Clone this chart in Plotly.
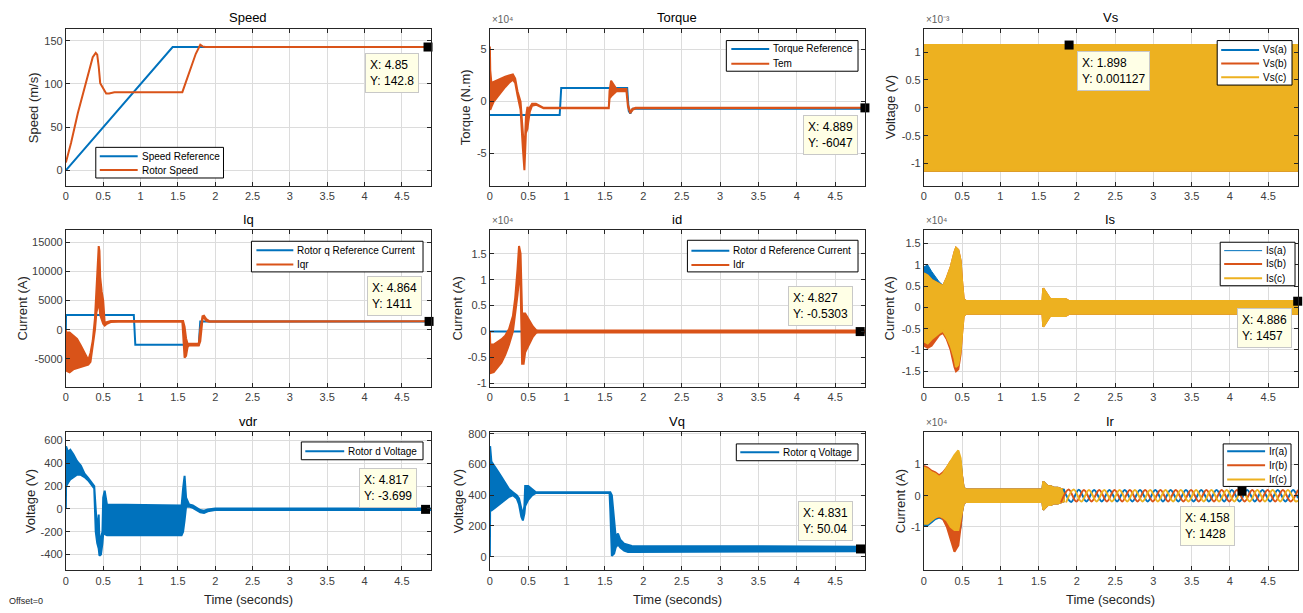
import plotly.graph_objects as go

# ---------------- data ----------------
BLUE = '#0072BD'
ORANGE = '#D95319'
YELLOW = '#EDB120'

x_ticks = [0, 0.5, 1, 1.5, 2, 2.5, 3, 3.5, 4, 4.5]
x_tick_labels = ['0', '0.5', '1', '1.5', '2', '2.5', '3', '3.5', '4', '4.5']
x_max = 4.89

# Speed
speed_ref_t = [0, 1.43, 4.89]
speed_ref_v = [0, 142.8, 142.8]
rotor_speed_t = [0, 0.07, 0.16, 0.27, 0.33, 0.36, 0.4, 0.42, 0.44, 0.46, 0.48, 0.51, 0.54, 0.58, 0.65,
                 1.56, 1.62, 1.68, 1.74, 1.8, 1.83, 1.87, 4.89]
rotor_speed_v = [9, 32, 66, 101, 122, 131, 136, 134, 120, 101, 98, 93, 89, 89, 90.5,
                 90.5, 105, 120, 135, 145.5, 143.5, 142.8, 142.8]

# Torque
torque_ref_t = [0, 0.91, 0.93, 1.79, 1.81, 1.83, 1.86, 4.89]
torque_ref_v = [-13000, -13000, 13000, 13000, -9000, -11500, -7000, -7000]
tem_t = [0, 0.005, 0.02, 0.05, 0.1, 0.15, 0.2, 0.25, 0.3, 0.33, 0.36, 0.4, 0.43, 0.45, 0.47, 0.49, 0.5,
         0.52, 0.55, 0.6, 0.65, 0.7, 1.55, 1.56, 1.58, 1.62, 1.65, 1.78, 1.8, 1.83, 1.86, 1.9, 4.89]
tem_hi = [53000, 30000, 18000, 19000, 21000, 22000, 24000, 25000, 26000, 22000, 10000, 0, -35000, -50000,
          -15000, -5000, -8000, -5000, -2000, -2000, -4000, -6000, -6000, 10000, 20000, 16000, 12000, 12000,
          -3000, -10000, -7000, -6000, -6000]
tem_lo = [0, -8000, -5000, 0, 5000, 9500, 14000, 18000, 21000, 18000, 6000, -8000, -45000, -66000, -30000,
          -26000, -20000, -10000, -4000, -3000, -5000, -6500, -6500, 3000, 5000, 8000, 10000, 10000, -5000,
          -11000, -8000, -6500, -6500]

# Vs (three phases, each a dense sine band)
vs_t = [0, 4.89]
vs_a_hi = [0.001127, 0.001127]
vs_a_lo = [-0.001127, -0.001127]
vs_b_hi = [0.001127, 0.001127]
vs_b_lo = [-0.001127, -0.001127]
vs_c_hi = [0.001127, 0.001127]
vs_c_lo = [-0.001127, -0.001127]

# Iq
iq_ref_t = [0, 0.002, 0.91, 0.93, 1.78, 1.8, 4.89]
iq_ref_v = [0, 2500, 2500, -2600, -2600, 1400, 1400]
iqr_t = [0, 0.003, 0.05, 0.1, 0.15, 0.2, 0.25, 0.3, 0.33, 0.36, 0.39, 0.41, 0.43, 0.44, 0.45, 0.46, 0.48,
         0.5, 0.52, 0.55, 0.6, 0.7, 1.56, 1.57, 1.59, 1.61, 1.63, 1.65, 1.78, 1.8, 1.83, 1.85, 1.88, 1.92, 4.89]
iqr_hi = [0, -500, -500, -1000, -1600, -2700, -3900, -5200, -4000, -1900, 2000, 8000, 12000, 14300, 13500,
          9000, 6500, 5000, 1200, 1300, 1500, 1500, 1500, 1500, 500, -1500, -2400, -2400, -2400, 0, 2300,
          2400, 1800, 1450, 1450]
iqr_lo = [-1500, -7000, -7300, -6800, -6600, -6300, -6200, -6000, -5500, -3000, 0, 3000, 4000, 5000, 4000,
          2500, 2000, 1000, 700, 1000, 1300, 1350, 1350, 1200, -4800, -4500, -3000, -2700, -2700, -2000,
          1800, 2100, 1500, 1350, 1350]

# id
id_ref_t = [0, 4.89]
id_ref_v = [0, 0]
idr_t = [0, 0.005, 0.05, 0.1, 0.15, 0.2, 0.25, 0.3, 0.33, 0.36, 0.38, 0.4, 0.42, 0.44, 0.46, 0.48, 0.5,
         0.53, 0.56, 0.6, 0.62, 4.89]
idr_hi = [0, -2500, -2500, -2000, -1500, -800, 500, 3000, 6500, 12000, 16500, 15000, 3500, 3500, 3500,
          3000, 2500, 2000, 1000, 300, 200, 200]
idr_lo = [-2000, -8000, -7800, -7000, -6000, -4500, -2500, 0, 3000, 7000, 10000, 9000, -6200, -6200,
          -4000, -3500, -3000, -2000, -1000, -300, -200, -200]

# Is (three phases)
is_t = [0, 0.05, 0.1, 0.2, 0.25, 0.3, 0.35, 0.4, 0.42, 0.45, 0.48, 0.5, 0.52, 0.55, 1.55, 1.56, 1.58,
        1.62, 1.65, 1.85, 1.9, 4.89]
is_a_hi = [9500, 10000, 8500, 6000, 5200, 7000, 9500, 13000, 14000, 13500, 11000, 6000, 2000, 1500, 1500,
           4500, 4000, 3000, 2000, 2000, 1500, 1500]
is_a_lo = [-8000, -8500, -7500, -6000, -5500, -7000, -9000, -12000, -14000, -13500, -10000, -6000, -2000,
           -1500, -1500, -4500, -4000, -3000, -2000, -2000, -1500, -1500]
is_b_hi = [8000, 7500, 6500, 5500, 5000, 7000, 9500, 13000, 14000, 13500, 11000, 6000, 2000, 1500, 1500,
           4500, 4000, 3000, 2000, 2000, 1500, 1500]
is_b_lo = [-9000, -9500, -9000, -6500, -6000, -7500, -10000, -14000, -15000, -14500, -11000, -6000, -2000,
           -1500, -1500, -4500, -4000, -3000, -2000, -2000, -1500, -1500]
is_c_hi = [8000, 7500, 6500, 5500, 5000, 7000, 9500, 13000, 14000, 13500, 11000, 6000, 2000, 1500, 1500,
           4500, 4000, 3000, 2000, 2000, 1500, 1500]
is_c_lo = [-8000, -8500, -7500, -6000, -5500, -7000, -9000, -12000, -14000, -13500, -10000, -6000, -2000,
           -1500, -1500, -4500, -4000, -3000, -2000, -2000, -1500, -1500]

# vdr
vdr_t = [0, 0.003, 0.03, 0.06, 0.1, 0.15, 0.2, 0.25, 0.3, 0.38, 0.4, 0.42, 0.44, 0.45, 0.47, 0.49, 0.5,
         0.52, 0.55, 1.55, 1.57, 1.59, 1.61, 1.65, 1.7, 1.75, 1.8, 1.85, 1.9, 2.0, 4.89]
vdr_hi = [0, 550, 500, 520, 480, 420, 380, 310, 270, 200, 0, -200, -50, -300, -250, -200, 100, 160, 40,
          30, 180, 290, 100, 40, 30, 10, -10, -15, -5, 5, 5]
vdr_lo = [0, 200, 230, 260, 280, 300, 300, 280, 250, 180, -200, -300, -350, -410, -400, -300, -220, -220,
          -230, -230, -200, -100, 20, 20, 10, -10, -30, -35, -20, -10, -10]

# Vq
vq_t = [0, 0.003, 0.02, 0.05, 0.1, 0.15, 0.2, 0.25, 0.3, 0.35, 0.38, 0.41, 0.43, 0.45, 0.46, 0.5, 0.55,
        0.6, 1.56, 1.57, 1.59, 1.62, 1.64, 1.67, 1.7, 1.75, 1.8, 1.85, 4.89]
vq_hi = [0, 720, 620, 600, 560, 520, 480, 440, 420, 400, 380, 300, 270, 330, 460, 460, 440, 420, 420, 420,
         400, 220, 130, 150, 110, 85, 75, 70, 65]
vq_lo = [0, 300, 300, 310, 330, 350, 370, 390, 400, 380, 340, 260, 236, 280, 330, 370, 400, 415, 415, 300,
         5, 20, 60, 80, 60, 40, 30, 30, 35]

# Ir: transient envelopes (three phases) ...
ir_t = [0, 0.05, 0.1, 0.15, 0.2, 0.25, 0.3, 0.35, 0.4, 0.45, 0.48, 0.5, 0.52, 0.55, 1.55, 1.56, 1.58,
        1.62, 1.66, 1.7, 1.75, 1.8, 1.83]
ir_a_hi = [8000, 7500, 7000, 6500, 6000, 6500, 8000, 10000, 12000, 13000, 11000, 6000, 2500, 2000, 2000,
           4500, 4000, 3000, 3000, 2500, 2500, 2000, 1800]
ir_a_lo = [-9500, -9500, -8500, -7500, -7000, -7500, -9000, -11000, -12000, -13000, -10000, -5000, -2500,
           -2000, -2000, -4500, -4000, -3000, -3000, -2500, -2500, -2000, -1800]
ir_b_hi = [9500, 9000, 8000, 7500, 6500, 7500, 9000, 11000, 12000, 12500, 10000, 5500, 2500, 2000, 2000,
           4500, 4000, 3000, 3000, 2500, 2500, 2000, 1800]
ir_b_lo = [-8000, -8000, -7500, -7000, -6500, -7500, -10000, -14000, -18000, -16000, -10000, -5000, -2500,
           -2000, -2000, -4500, -4000, -3000, -3000, -2500, -2500, -2000, -1800]
ir_c_hi = [9000, 8500, 7500, 7000, 6000, 7000, 9000, 11000, 13000, 14500, 12000, 6000, 2500, 2000, 2000,
           4500, 4000, 3000, 3000, 2500, 2500, 2000, 1800]
ir_c_lo = [-9000, -9000, -8000, -7000, -6500, -7000, -8000, -10000, -11000, -11000, -8000, -5000, -2500,
           -2000, -2000, -4500, -4000, -3000, -3000, -2500, -2500, -2000, -1800]
# ... and steady-state slip-frequency waves (peaks / troughs of each phase)
ir_a_wave_t = [1.825, 1.925, 2.025, 2.125, 2.225, 2.325, 2.425, 2.525, 2.625, 2.725, 2.825, 2.925, 3.025,
               3.125, 3.225, 3.325, 3.425, 3.525, 3.625, 3.725, 3.825, 3.925, 4.025, 4.125, 4.225, 4.325,
               4.425, 4.525, 4.625, 4.725, 4.825, 4.89]
ir_a_wave_v = [2200, -2000, 1900, -1850, 1850, -1850, 1850, -1850, 1850, -1850, 1850, -1850, 1850, -1850,
               1850, -1850, 1850, -1850, 1850, -1850, 1850, -1850, 1850, -1850, 1850, -1850, 1850, -1850,
               1850, -1850, 1850, -800]
ir_b_wave_t = [1.792, 1.892, 1.992, 2.092, 2.192, 2.292, 2.392, 2.492, 2.592, 2.692, 2.792, 2.892, 2.992,
               3.092, 3.192, 3.292, 3.392, 3.492, 3.592, 3.692, 3.792, 3.892, 3.992, 4.092, 4.192, 4.292,
               4.392, 4.492, 4.592, 4.692, 4.792, 4.89]
ir_b_wave_v = [-2200, 2000, -1900, 1850, -1850, 1850, -1850, 1850, -1850, 1850, -1850, 1850, -1850, 1850,
               -1850, 1850, -1850, 1850, -1850, 1850, -1850, 1850, -1850, 1850, -1850, 1850, -1850, 1850,
               -1850, 1850, -1850, 1850]
ir_c_wave_t = [1.858, 1.958, 2.058, 2.158, 2.258, 2.358, 2.458, 2.558, 2.658, 2.758, 2.858, 2.958, 3.058,
               3.158, 3.258, 3.358, 3.458, 3.558, 3.658, 3.758, 3.858, 3.958, 4.058, 4.158, 4.258, 4.358,
               4.458, 4.558, 4.658, 4.758, 4.858, 4.89]
ir_c_wave_v = [-2200, 2000, -1900, 1850, -1850, 1850, -1850, 1850, -1850, 1850, -1850, 1850, -1850, 1850,
               -1850, 1850, -1850, 1850, -1850, 1850, -1850, 1850, -1850, 1850, -1850, 1850, -1850, 1850,
               -1850, 1850, -1850, -1600]

# data tips (x, y)
tip_x = [4.85, 4.889, 1.898, 4.864, 4.827, 4.886, 4.817, 4.831, 4.158]
tip_y = [142.8, -6047, 0.001127, 1411, -0.5303, 1457, -3.699, 50.04, 1428]

titles = ['Speed', 'Torque', 'Vs', 'Iq', 'id', 'Is', 'vdr', 'Vq', 'Ir']
y_titles = ['Speed (m/s)', 'Torque (N.m)', 'Voltage (V)', 'Current (A)', 'Current (A)', 'Current (A)',
            'Voltage (V)', 'Voltage (V)', 'Current (A)']
y_ranges = [[-18, 164], [-81000, 70000], [-0.0014, 0.00142], [-9750, 17000], [-10600, 19500],
            [-18600, 18100], [-540, 675], [-90, 812], [-24000, 20400]]
y_tickvals = [[0, 50, 100, 150], [-50000, 0, 50000], [-0.001, -0.0005, 0, 0.0005, 0.001],
              [-5000, 0, 5000, 10000, 15000], [-10000, -5000, 0, 5000, 10000, 15000],
              [-15000, -10000, -5000, 0, 5000, 10000, 15000], [-400, -200, 0, 200, 400, 600],
              [0, 200, 400, 600, 800], [-10000, 0, 10000]]
y_ticktext = [['0', '50', '100', '150'], ['-5', '0', '5'], ['-1', '-0.5', '0', '0.5', '1'],
              ['-5000', '0', '5000', '10000', '15000'], ['-1', '-0.5', '0', '0.5', '1', '1.5'],
              ['-1.5', '-1', '-0.5', '0', '0.5', '1', '1.5'], ['-400', '-200', '0', '200', '400', '600'],
              ['0', '200', '400', '600', '800'], ['-1', '0', '1']]
exponents = {2: '\u00d710\u2074', 3: '\u00d710\u207b\u00b3', 5: '\u00d710\u2074',
             6: '\u00d710\u2074', 9: '\u00d710\u2074'}

# ---------------- layout geometry (pixels) ----------------
W, H = 1303, 613
FONT = 'Liberation Sans, Arial, sans-serif'
col_px = [(63, 429), (488, 864), (923, 1298)]
row_px = [(25, 184), (229, 387), (433, 573)]
ytitle_px = [30, 463, 889, 20, 456, 889, 27, 456, 899]
tipbox_px = [(363, 50), (802, 112), (1076, 48), (365, 275), (787, 285), (1237, 308), (357, 469),
             (797, 503), (1180, 508)]


def px(x):
    return x / W


def py(y):
    return 1 - y / H


fig = go.Figure()


def ax(i):
    return ('x' if i == 1 else 'x%d' % i), ('y' if i == 1 else 'y%d' % i)


def line(i, t, v, color, width=2):
    xa, ya = ax(i)
    fig.add_trace(go.Scatter(x=t, y=v, mode='lines', line=dict(color=color, width=width),
                             xaxis=xa, yaxis=ya, showlegend=False, hoverinfo='skip'))


def band(i, t, hi, lo, color, width=2):
    xa, ya = ax(i)
    fig.add_trace(go.Scatter(x=list(t) + list(t)[::-1], y=list(hi) + list(lo)[::-1], mode='lines',
                             fill='toself', fillcolor=color, line=dict(color=color, width=width),
                             xaxis=xa, yaxis=ya, showlegend=False, hoverinfo='skip'))


def wave(i, t, v, color):
    xa, ya = ax(i)
    fig.add_trace(go.Scatter(x=t, y=v, mode='lines', line=dict(color=color, width=2, shape='spline'),
                             xaxis=xa, yaxis=ya, showlegend=False, hoverinfo='skip'))


# 1 Speed
line(1, speed_ref_t, speed_ref_v, BLUE)
line(1, rotor_speed_t, rotor_speed_v, ORANGE)
# 2 Torque
line(2, torque_ref_t, torque_ref_v, BLUE)
band(2, tem_t, tem_hi, tem_lo, ORANGE)
# 3 Vs
band(3, vs_t, vs_a_hi, vs_a_lo, BLUE)
band(3, vs_t, vs_b_hi, vs_b_lo, ORANGE)
band(3, vs_t, vs_c_hi, vs_c_lo, YELLOW)
# 4 Iq
line(4, iq_ref_t, iq_ref_v, BLUE)
band(4, iqr_t, iqr_hi, iqr_lo, ORANGE)
# 5 id
line(5, id_ref_t, id_ref_v, BLUE)
band(5, idr_t, idr_hi, idr_lo, ORANGE)
# 6 Is
band(6, is_t, is_a_hi, is_a_lo, BLUE, width=1)
band(6, is_t, is_b_hi, is_b_lo, ORANGE)
band(6, is_t, is_c_hi, is_c_lo, YELLOW)
# 7 vdr
band(7, vdr_t, vdr_hi, vdr_lo, BLUE)
# 8 Vq
band(8, vq_t, vq_hi, vq_lo, BLUE)
# 9 Ir
band(9, ir_t, ir_a_hi, ir_a_lo, BLUE)
band(9, ir_t, ir_b_hi, ir_b_lo, ORANGE)
band(9, ir_t, ir_c_hi, ir_c_lo, YELLOW)
wave(9, ir_a_wave_t, ir_a_wave_v, BLUE)
wave(9, ir_b_wave_t, ir_b_wave_v, ORANGE)
wave(9, ir_c_wave_t, ir_c_wave_v, YELLOW)

# data tip markers
for k in range(9):
    xa, ya = ax(k + 1)
    fig.add_trace(go.Scatter(x=[tip_x[k]], y=[tip_y[k]], mode='markers',
                             marker=dict(symbol='square', size=9, color='black'),
                             xaxis=xa, yaxis=ya, showlegend=False, hoverinfo='skip', cliponaxis=False))

layout = dict(width=W, height=H, margin=dict(l=0, r=0, t=0, b=0), autosize=False,
              paper_bgcolor='white', plot_bgcolor='white', showlegend=False,
              font=dict(family=FONT, size=11, color='#262626'))

annotations = []
shapes = []
for k in range(9):
    r, c = divmod(k, 3)
    i = k + 1
    xs = 'xaxis' if i == 1 else 'xaxis%d' % i
    ys = 'yaxis' if i == 1 else 'yaxis%d' % i
    xa, ya = ax(i)
    common = dict(showline=True, linecolor='#262626', linewidth=1, mirror='ticks', ticks='inside',
                  ticklen=4, tickcolor='#262626', showgrid=True, gridcolor='#DCDCDC', gridwidth=1,
                  zeroline=False, tickfont=dict(family=FONT, size=11, color='#404040'))
    layout[xs] = dict(domain=[px(col_px[c][0]), px(col_px[c][1])], anchor=ya, range=[0, x_max],
                      tickvals=x_ticks, ticktext=x_tick_labels, **common)
    layout[ys] = dict(domain=[py(row_px[r][1]), py(row_px[r][0])], anchor=xa, range=y_ranges[k],
                      tickvals=y_tickvals[k], ticktext=y_ticktext[k], **common)
    cx = (col_px[c][0] + col_px[c][1]) / 2
    # title
    annotations.append(dict(text=titles[k], x=px(cx), y=py(row_px[r][0] - 11), xref='paper', yref='paper',
                            showarrow=False, xanchor='center', yanchor='middle',
                            font=dict(family=FONT, size=13, color='black')))
    # y title
    annotations.append(dict(text=y_titles[k], x=px(ytitle_px[k]), y=py((row_px[r][0] + row_px[r][1]) / 2),
                            xref='paper', yref='paper', showarrow=False, textangle=-90,
                            xanchor='center', yanchor='middle',
                            font=dict(family=FONT, size=13, color='#262626')))
    if r == 2:
        annotations.append(dict(text='Time (seconds)', x=px(cx), y=py(602), xref='paper', yref='paper',
                                showarrow=False, xanchor='center', yanchor='middle',
                                font=dict(family=FONT, size=13, color='#262626')))
    if i in exponents:
        annotations.append(dict(text=exponents[i], x=px(col_px[c][0]), y=py(row_px[r][0] - 2),
                                xref='paper', yref='paper', showarrow=False, xanchor='left',
                                yanchor='bottom', font=dict(family=FONT, size=10, color='#606060')))
    # data tip box
    bx, by = tipbox_px[k]
    annotations.append(dict(text='X: %s<br>Y: %s' % (format(tip_x[k], '.4g'), format(tip_y[k], '.4g')),
                            x=px(bx), y=py(by), xref='paper', yref='paper', showarrow=False,
                            xanchor='left', yanchor='top', align='left', bgcolor='#FFFFE6',
                            bordercolor='#C8C8C8', borderwidth=1, borderpad=4,
                            font=dict(family=FONT, size=12, color='black')))

# legends (box, line sample x-range, entries)
legends = [
    ((93, 145, 221, 176), (97, 135), [('Speed Reference', BLUE, 154, 2), ('Rotor Speed', ORANGE, 168, 2)]),
    ((725, 37, 857, 68), (730, 768), [('Torque Reference', BLUE, 45.5, 2), ('Tem', ORANGE, 60.5, 2)]),
    ((1217, 37, 1292, 82), (1221, 1259), [('Vs(a)', BLUE, 46.5, 2), ('Vs(b)', ORANGE, 60.3, 2),
                                         ('Vs(c)', YELLOW, 74, 2)]),
    ((249, 240, 421, 271), (254, 291), [('Rotor q Reference Current', BLUE, 249, 2), ('Iqr', ORANGE, 263.5, 2)]),
    ((686, 239, 857, 271), (690, 728), [('Rotor d Reference Current', BLUE, 249.5, 2), ('Idr', ORANGE, 264, 2)]),
    ((1220, 241, 1295, 285), (1224, 1262), [('Is(a)', BLUE, 249.5, 1), ('Is(b)', ORANGE, 263, 2),
                                           ('Is(c)', YELLOW, 277.3, 2)]),
    ((299, 443, 421, 461), (303, 342), [('Rotor d Voltage', BLUE, 452.5, 2)]),
    ((735, 445, 857, 462), (739, 778), [('Rotor q Voltage', BLUE, 453.5, 2)]),
    ((1223, 445, 1291, 488), (1227, 1265), [('Ir(a)', BLUE, 452.3, 2), ('Ir(b)', ORANGE, 466.7, 2),
                                           ('Ir(c)', YELLOW, 481, 2)]),
]
for (x0, y0, x1, y1), (lx0, lx1), entries in legends:
    shapes.append(dict(type='rect', xref='paper', yref='paper', x0=px(x0), x1=px(x1), y0=py(y1), y1=py(y0),
                       fillcolor='white', line=dict(color='black', width=1), layer='above'))
    for label, color, yy, w in entries:
        shapes.append(dict(type='line', xref='paper', yref='paper', x0=px(lx0), x1=px(lx1), y0=py(yy),
                           y1=py(yy), line=dict(color=color, width=w), layer='above'))
        annotations.append(dict(text=label, x=px(lx1 + 2), y=py(yy), xref='paper', yref='paper',
                                showarrow=False, xanchor='left', yanchor='middle',
                                font=dict(family=FONT, size=10, color='black')))

annotations.append(dict(text='Offset=0', x=px(4), y=py(604), xref='paper', yref='paper', showarrow=False,
                        xanchor='left', yanchor='middle', font=dict(family=FONT, size=9, color='#262626')))

layout['annotations'] = annotations
layout['shapes'] = shapes
fig.update_layout(**layout)
fig.write_html('out.html', config={'displayModeBar': False})
